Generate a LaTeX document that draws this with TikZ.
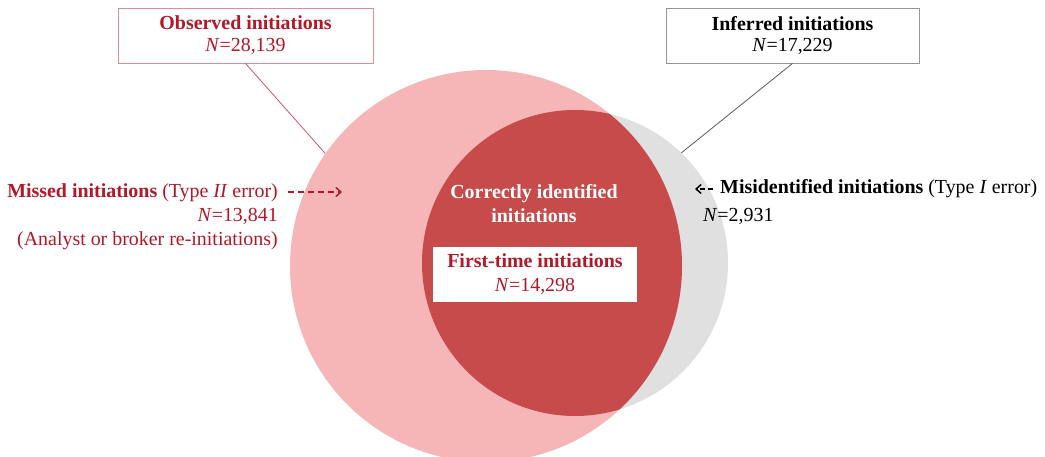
\documentclass[tikz,border=0pt]{standalone}
\usepackage{fontspec}
\setmainfont{Liberation Serif}
\usetikzlibrary{arrows.meta}
\definecolor{redtext}{RGB}{178,24,40}
\definecolor{darkfill}{RGB}{200,75,76}
\definecolor{pinkfill}{RGB}{246,182,184}
\definecolor{grayfill}{RGB}{224,224,224}
\definecolor{obsborder}{RGB}{222,140,150}
\definecolor{obsline}{RGB}{200,90,105}
\definecolor{infborder}{RGB}{150,150,150}
\definecolor{infline}{RGB}{90,90,90}
\tikzset{
  lbl/.style={font=\fontsize{20}{24}\selectfont, inner sep=0pt},
  boxlbl/.style={font=\fontsize{20}{22}\selectfont, align=center, minimum width=255bp, minimum height=55bp, line width=0.8bp},
  venn/.style={circle, inner sep=0pt},
  dasharrow/.style={line width=1.5bp, dash pattern=on 6bp off 4bp, -{Straight Barb[length=5bp,width=9bp]}},
  leader/.style={line width=0.8bp}
}
\begin{document}
\begin{tikzpicture}[x=1bp,y=-1bp]
\clip (0,0) rectangle (1045,457);
\fill[white] (0,0) rectangle (1045,457);
% circles
\node[venn, minimum size=306bp, fill=grayfill] (inf) at (575,263) {};
\node[venn, minimum size=392bp, fill=pinkfill] (obs) at (486,266) {};
\begin{scope}
  \clip (486,266) circle[radius=196];
  \fill[darkfill] (575,263) circle[radius=153];
\end{scope}
% top boxes
\node[boxlbl, draw=obsborder, text=redtext] (obsbox) at (245.5,35.5)
  {\textbf{Observed initiations}\\\textit{N}=28,139};
\node[boxlbl, draw=infborder, text=black, minimum width=253bp] (infbox) at (792.5,35.5)
  {\textbf{Inferred initiations}\\\textit{N}=17,229};
\draw[leader, obsline] (obsbox.south) -- (obs.145);
\draw[leader, infline] (infbox.south) -- (inf.46);
% missed
\node[lbl, anchor=north east, align=right, text=redtext] (missed) at (278,183.5)
  {\textbf{Missed initiations} (Type \textit{II} error)\\\textit{N}=13,841\\(Analyst or broker re-initiations)};
\coordinate (ma1) at (288,192);
\coordinate (ma2) at (342,192);
\draw[dasharrow, redtext] (ma1) -- (ma2);
% misidentified
\node[lbl, anchor=base west] (mis1) at (720,194)
  {\textbf{Misidentified initiations} (Type \textit{I} error)};
\node[lbl, anchor=base west] (mis2) at (703,222) {\textit{N}=2,931};
\coordinate (mb1) at (713,189);
\coordinate (mb2) at (695,189);
\draw[line width=1.5bp, dash pattern=on 5bp off 3bp, -{Straight Barb[length=5bp,width=9bp]}] (mb1) -- (mb2);
% intersection labels
\node[lbl, anchor=north, align=center, text=white] (correct) at (534,184.5)
  {\textbf{Correctly identified}\\\textbf{initiations}};
\node[lbl, fill=white, minimum width=204bp, minimum height=55bp, align=center, text=redtext] (first) at (535,274.5)
  {\textbf{First-time initiations}\\\textit{N}=14,298};
\end{tikzpicture}
\end{document}
